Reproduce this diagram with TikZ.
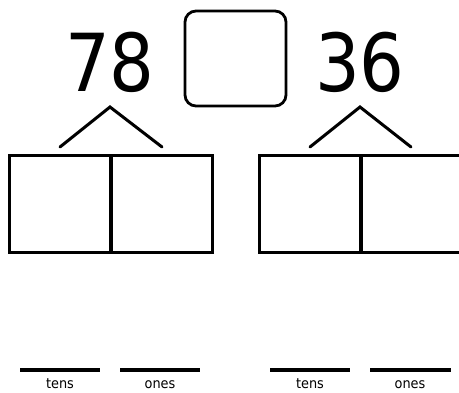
\documentclass[tikz,border=0pt]{standalone}
\usepackage{fontspec}
\setmainfont{DejaVu Sans}
\begin{document}
\begin{tikzpicture}[x=1pt,y=-1pt,
  cell/.style={draw,line width=3pt,minimum width=101pt,minimum height=97pt,inner sep=0pt},
  bignum/.style={font=\fontsize{80}{80}\selectfont,inner sep=0pt,xscale=0.88},
  lbl/.style={font=\fontsize{14}{14}\selectfont,inner sep=0pt,xscale=0.92},
  stroke/.style={line width=3pt,line cap=round},
  uline/.style={line width=4pt}]
\useasboundingbox (0,0) rectangle (459,393);
\fill[white] (0,0) rectangle (459,393);
% answer box
\node[draw,line width=2.8pt,rounded corners=11pt,minimum width=101pt,minimum height=95pt] (ans) at (235.5,58.5) {};
% numbers
\node[bignum] (n78) at (110,62) {78};
\node[bignum] (n36) at (360,62) {36};
% carets
\coordinate (a1) at (110,107);
\coordinate (a2) at (360,107);
\coordinate (l1) at (60,147);
\coordinate (r1) at (162,147);
\coordinate (l2) at (310,147);
\coordinate (r2) at (411,147);
\draw[stroke] (l1) -- (a1) -- (r1);
\draw[stroke] (l2) -- (a2) -- (r2);
% cells
\node[cell] (t1) at (60,204) {};
\node[cell] (o1) at (162,204) {};
\node[cell] (t2) at (310,204) {};
\node[cell] (o2) at (411.5,204) {};
% underlines
\coordinate (u1a) at (20,370); \coordinate (u1b) at (100,370);
\coordinate (u2a) at (120,370); \coordinate (u2b) at (200,370);
\coordinate (u3a) at (270,370); \coordinate (u3b) at (350,370);
\coordinate (u4a) at (370,370); \coordinate (u4b) at (451,370);
\draw[uline] (u1a) -- (u1b);
\draw[uline] (u2a) -- (u2b);
\draw[uline] (u3a) -- (u3b);
\draw[uline] (u4a) -- (u4b);
\node[lbl,anchor=base] (lt1) at (60,389) {tens};
\node[lbl,anchor=base] (lo1) at (160,389) {ones};
\node[lbl,anchor=base] (lt2) at (310,389) {tens};
\node[lbl,anchor=base] (lo2) at (410,389) {ones};
\end{tikzpicture}
\end{document}
